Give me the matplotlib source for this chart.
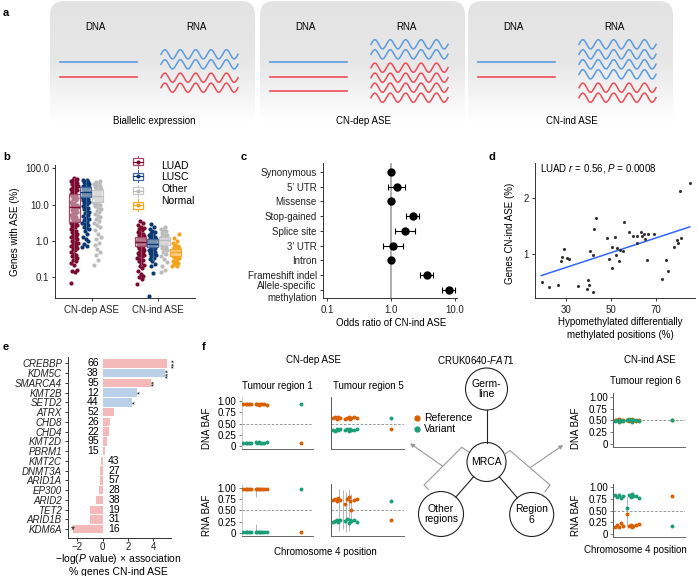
import numpy as np
import matplotlib
matplotlib.use('Agg')
import matplotlib.pyplot as plt
from matplotlib.patches import FancyBboxPatch, Circle, Rectangle
from matplotlib.colors import LinearSegmentedColormap

plt.rcParams['font.family'] = ['Liberation Sans', 'DejaVu Sans']
plt.rcParams['font.size'] = 7
plt.rcParams['mathtext.fontset'] = 'custom'
plt.rcParams['mathtext.rm'] = 'Liberation Sans'
plt.rcParams['mathtext.it'] = 'Liberation Sans:italic'
plt.rcParams['axes.linewidth'] = 0.7

# ---------------- DATA ----------------
# panel a: allele copies (blue, red) in DNA and RNA per scenario
a_titles = ['Biallelic expression', 'CN-dep ASE', 'CN-ind ASE']
a_dna_blue = [1, 1, 1]
a_dna_red = [1, 2, 1]
a_rna_blue = [2, 2, 4]
a_rna_red = [2, 4, 2]

# panel b: % genes with ASE
b_groups = ['LUAD', 'LUSC', 'Other', 'Normal']
b_cats = ['CN-dep ASE', 'CN-ind ASE']
luad_dep = [0.07, 0.14, 0.15, 0.16, 0.22, 0.25, 0.28, 0.3, 0.33, 0.35, 0.38, 0.4, 0.45, 0.5, 0.55,
            0.6, 0.65, 0.7, 0.75, 0.8, 0.85, 0.9, 0.95, 1.0, 1.1, 1.2, 1.3, 1.4, 1.5, 1.6, 1.7, 1.8,
            1.9, 2.0, 2.2, 2.4, 2.6, 2.8, 3.0, 3.2, 3.4, 3.6, 3.8, 4.0, 4.3, 4.6, 4.9, 5.2, 5.5, 5.9,
            6.3, 6.7, 7.1, 7.5, 8.0, 8.5, 9.0, 9.5, 10, 11, 12, 13, 14, 15, 16, 17, 18, 19, 20, 21.5,
            23, 24.5, 26, 27.5, 29, 31, 33, 35, 37, 39, 41, 43.5, 46, 48.5, 51, 54]
lusc_dep = [0.7, 0.75, 0.85, 1.0, 1.1, 1.3, 1.6, 1.9, 2.1, 2.3, 2.5, 2.7, 2.9, 3.1, 3.4, 3.7, 4.0,
            4.4, 4.8, 5.2, 5.7, 6.2, 6.8, 7.4, 8.0, 8.7, 9.4, 10.2, 11, 11.8, 12.6, 13.4, 14.2, 15,
            15.8, 16.6, 17.4, 18.2, 19, 19.8, 20.6, 21.4, 22.2, 23, 24, 25, 26, 27, 28, 29, 30, 31.5,
            33, 34.5, 36, 37.5, 39, 41, 43, 45, 47, 49]
other_dep = [0.22, 0.3, 0.4, 0.5, 0.6, 0.8, 0.9, 1.1, 1.3, 1.6, 2.0, 2.4, 2.8, 3.2, 3.6, 4.0, 4.5,
             5.0, 5.6, 6.2, 6.8, 7.5, 8.2, 9.0, 9.8, 10.6, 11.4, 12.2, 13, 13.8, 14.6, 15.4, 16.2,
             17, 17.8, 18.6, 19.5, 20.5, 21.5, 22.5, 23.5, 25, 26.5, 28, 30, 32, 34, 36, 38.5, 41, 44]
luad_ind = [0.065, 0.09, 0.1, 0.11, 0.12, 0.15, 0.18, 0.2, 0.22, 0.25, 0.28, 0.3, 0.32, 0.35, 0.38,
            0.4, 0.42, 0.45, 0.48, 0.5, 0.53, 0.56, 0.6, 0.63, 0.66, 0.7, 0.73, 0.76, 0.8, 0.83,
            0.86, 0.9, 0.93, 0.96, 1.0, 1.04, 1.08, 1.12, 1.16, 1.2, 1.25, 1.3, 1.36, 1.42, 1.5, 1.6,
            1.7, 1.8, 1.95, 2.1, 2.3, 2.5, 2.8, 3.1, 3.5]
lusc_ind = [0.03, 0.13, 0.2, 0.24, 0.28, 0.32, 0.35, 0.38, 0.41, 0.44, 0.47, 0.5, 0.53, 0.56, 0.6,
            0.63, 0.66, 0.7, 0.73, 0.76, 0.8, 0.83, 0.86, 0.9, 0.93, 0.96, 1.0, 1.04, 1.08, 1.12,
            1.17, 1.22, 1.28, 1.35, 1.43, 1.52, 1.62, 1.75, 1.9, 2.1, 2.4, 3.0]
other_ind = [0.14, 0.16, 0.2, 0.26, 0.32, 0.38, 0.44, 0.5, 0.55, 0.6, 0.64, 0.68, 0.72, 0.76, 0.8,
             0.84, 0.88, 0.92, 0.96, 1.0, 1.04, 1.08, 1.12, 1.16, 1.2, 1.25, 1.3, 1.36, 1.42, 1.5,
             1.6, 1.7, 1.85, 2.0, 2.2, 2.5]
normal_ind = [0.2, 0.21, 0.23, 0.25, 0.27, 0.29, 0.31, 0.33, 0.35, 0.37, 0.39, 0.41, 0.43, 0.45,
              0.47, 0.49, 0.51, 0.53, 0.55, 0.57, 0.6, 0.63, 0.66, 0.7, 0.75, 0.8, 0.9, 1.0, 1.2, 1.6]
dep_q1 = [3.3, 16, 12]
dep_med = [8.5, 22, 17]
dep_q3 = [19, 30, 25]
dep_lo = [0.3, 2.0, 2.5]
dep_hi = [55, 50, 45]
ind_q1 = [0.72, 0.68, 0.8, 0.38]
ind_med = [0.95, 0.85, 1.05, 0.5]
ind_q3 = [1.25, 1.1, 1.3, 0.62]
ind_lo = [0.2, 0.3, 0.4, 0.2]
ind_hi = [2.0, 1.7, 1.9, 0.9]

# panel c: odds ratios
c_labels = ['Synonymous', '5\u2019 UTR', 'Missense', 'Stop-gained', 'Splice site', '3\u2019 UTR',
            'Intron', 'Frameshift indel', 'Allele-specific\nmethylation']
c_or = [1.0, 1.24, 1.0, 2.2, 1.65, 1.08, 1.0, 3.6, 7.9]
c_lo = [0.95, 0.9, 0.94, 1.72, 1.14, 0.75, 0.95, 2.85, 6.2]
c_hi = [1.05, 1.68, 1.07, 2.75, 2.34, 1.55, 1.06, 4.5, 10.0]

# panel d: scatter
d_x = [19.2, 22.3, 26.6, 27.9, 28.2, 29.1, 30.6, 31.2, 35.3, 39.6, 40.1, 39.5, 42.0, 40.7, 42.1,
       42.4, 43.3, 48.1, 50.3, 50.6, 49.1, 51.8, 52.5, 52.1, 53.6, 54.0, 55.5, 55.8, 58.1, 59.6,
       61.4, 61.7, 63.3, 63.9, 64.7, 65.1, 66.6, 65.9, 69.1, 72.5, 74.4, 75.3, 78.0, 79.5, 79.9,
       81.0, 80.8, 85.1]
d_y = [0.51, 0.41, 0.46, 0.875, 0.95, 1.09, 0.94, 0.92, 0.43, 0.54, 0.45, 0.375, 0.33, 1.05, 0.99,
       1.46, 1.65, 1.29, 1.13, 0.755, 0.92, 1.31, 1.12, 0.98, 0.875, 1.08, 1.05, 1.58, 1.39, 1.33,
       1.32, 1.20, 1.39, 1.33, 1.37, 1.27, 1.36, 0.89, 1.36, 0.55, 0.90, 0.70, 1.125, 1.25, 1.21,
       1.29, 2.13, 2.27]
d_fit_x = [19, 85]
d_fit_y = [0.62, 1.49]

# panel e: chromatin modifiers
e_genes = ['CREBBP', 'KDM5C', 'SMARCA4', 'KMT2B', 'SETD2', 'ATRX', 'CHD8', 'CHD4', 'KMT2D', 'PBRM1',
           'KMT2C', 'DNMT3A', 'ARID1A', 'EP300', 'ARID2', 'TET2', 'ARID1B', 'KDM6A']
e_vals = [5.1, 4.9, 3.8, 2.7, 2.35, 0.9, 0.58, 0.53, 0.37, 0.18, -0.16, -0.21, -0.23, -0.29, -0.55,
          -1.0, -1.0, -2.3]
e_pct = [66, 38, 95, 12, 44, 52, 26, 22, 95, 15, 43, 27, 57, 28, 38, 19, 31, 16]
e_blue = [False, True, False, True, True, False, False, False, False, False, False, False, False,
          False, False, False, False, False]
e_stars = ['***', '***', '**', '*', '*', '', '', '', '', '', '', '', '', '', '', '', '', '*']

# panel f: BAF per SNP (chromosome 4 positions, arbitrary units)
f_pos = [2.2, 5.6, 7.8, 10.2, 13.0, 19.5, 21.8, 24.2, 25.6, 27.9, 31.1, 35.8, 82.4]
r1_dna_ref = [0.94, 0.93, 0.94, 0.93, 0.93, 0.93, 0.94, 0.92, 0.94, 0.93, 0.93, 0.92, 0.06]
r1_dna_var = [0.06, 0.07, 0.06, 0.07, 0.07, 0.08, 0.06, 0.08, 0.06, 0.07, 0.07, 0.08, 0.93]
r1_rna_ref = [0.98, 0.98, 0.98, 0.98, 0.98, 0.97, 0.98, 0.98, 0.97, 0.98, 0.98, 0.98, 0.02]
r1_rna_var = [0.02, 0.02, 0.02, 0.02, 0.02, 0.03, 0.02, 0.02, 0.03, 0.02, 0.02, 0.02, 0.98]
r5_dna_ref = [0.62, 0.65, 0.61, 0.64, 0.62, 0.60, 0.63, 0.65, 0.61, 0.63, 0.64, 0.62, 0.37]
r5_dna_var = [0.35, 0.33, 0.37, 0.36, 0.38, 0.35, 0.37, 0.34, 0.38, 0.36, 0.35, 0.37, 0.63]
r5_rna_ref = [0.72, 0.75, 0.70, 0.78, 0.73, 0.65, 0.76, 0.80, 0.70, 0.50, 0.72, 0.75, 0.28]
r5_rna_var = [0.25, 0.27, 0.30, 0.24, 0.28, 0.27, 0.31, 0.22, 0.30, 0.26, 0.28, 0.25, 0.71]
r6_dna_ref = [0.51, 0.50, 0.52, 0.49, 0.50, 0.51, 0.48, 0.50, 0.52, 0.50, 0.49, 0.51, 0.50]
r6_dna_var = [0.48, 0.50, 0.47, 0.51, 0.49, 0.50, 0.53, 0.50, 0.47, 0.50, 0.51, 0.48, 0.50]
r6_rna_ref = [0.16, 0.20, 0.14, 0.24, 0.18, 0.43, 0.17, 0.20, 0.15, 0.18, 0.19, 0.22, 0.82]
r6_rna_var = [0.83, 0.80, 0.84, 0.78, 0.82, 0.55, 0.83, 0.80, 0.85, 0.82, 0.81, 0.78, 0.18]
r1_err_pos, r1_err_lo, r1_err_hi = [19.5, 19.5], [0.80, 0.02], [0.98, 0.20]
r5_err_pos, r5_err_lo, r5_err_hi = [11.4, 16.0, 20.5, 24.2, 27.6], [0.05, 0.10, 0.02, 0.05, 0.30], [0.98, 0.95, 0.90, 0.98, 0.85]
r6_err_pos, r6_err_lo, r6_err_hi = [19.5], [0.17], [0.80]

# ---------------- FIGURE ----------------
W, H = 698, 576
fig = plt.figure(figsize=(W / 100, H / 100), dpi=100)


def axpx(l, t, r, b):
    ax = fig.add_axes([l / W, 1 - b / H, (r - l) / W, (b - t) / H])
    ax.set_facecolor('none')
    return ax


def ftext(x, y, s, **kw):
    kw.setdefault('ha', 'center')
    kw.setdefault('va', 'center')
    kw.setdefault('fontsize', 7)
    return fig.text(x / W, 1 - y / H, s, **kw)


def style(ax):
    for s in ['top', 'right']:
        ax.spines[s].set_visible(False)
    for s in ['left', 'bottom']:
        ax.spines[s].set_color('#333333')
        ax.spines[s].set_linewidth(0.7)
    ax.tick_params(length=2.5, width=0.7, color='#333333', labelsize=7, pad=2, labelcolor='#222222')


bg = fig.add_axes([0, 0, 1, 1])
bg.set_xlim(0, W)
bg.set_ylim(H, 0)
bg.axis('off')
bg.set_zorder(-5)

# panel labels
for lab, x, y in [('a', 3, 13), ('b', 3, 157), ('c', 241, 157), ('d', 488, 157), ('e', 3, 347), ('f', 202, 347)]:
    ftext(x, y, lab, ha='left', fontweight='bold', fontsize=8)

# ---------------- panel a ----------------
cmap_g = LinearSegmentedColormap.from_list('g', ['#E3E3E3', '#E7E7E7', '#FFFFFF'])
grad = np.linspace(0, 1, 256).reshape(-1, 1)
box_lefts = [50, 260, 468]
blue_c, red_c = '#5B9BDF', '#EE4B55'
for i, l in enumerate(box_lefts):
    r = l + 205
    patch = FancyBboxPatch((l, 1), r - l, 150, boxstyle='round,pad=0,rounding_size=14',
                           facecolor='none', edgecolor='none')
    bg.add_patch(patch)
    im = bg.imshow(grad, extent=[l, r, 122, 1], cmap=cmap_g, aspect='auto', origin='upper',
                   interpolation='bilinear', zorder=0)
    im.set_clip_path(patch)
    ftext(l + 45, 27, 'DNA')
    ftext(l + 146, 27, 'RNA')
    ftext(l + 104, 121, a_titles[i])
    cols = [blue_c] * a_dna_blue[i] + [red_c] * a_dna_red[i]
    for k, c in enumerate(cols):
        y = 62.3 + 14.4 * k
        bg.plot([l + 10, l + 87], [y, y], color=c, lw=1.2, zorder=2)
    nb, nr = a_rna_blue[i], a_rna_red[i]
    ys = [10 * k for k in range(nb)] + [10 * (nb - 1) + 13.4 + 10 * k for k in range(nr)]
    total = ys[-1]
    ctr = 71
    xs = np.linspace(0, 77, 300)
    for k, y0 in enumerate(ys):
        c = blue_c if k < nb else red_c
        yy = ctr - total / 2 + y0 - 4.6 * np.sin(2 * np.pi * xs / 15.4)
        bg.plot(l + 111 + xs, yy, color=c, lw=1.1, zorder=2)
bg.set_xlim(0, W)
bg.set_ylim(H, 0)

# ---------------- panel b ----------------
axb = axpx(55.3, 165, 195, 298.3)
style(axb)
axb.set_yscale('log')
axb.set_ylim(0.0265, 123)
axb.set_xlim(0.454, 2.55)
pt_cols = ['#7A0A2E', '#0B3A73', '#BBBBBB', '#F5A31D']
box_cols = ['#A2486A', '#46679A', '#C6C6C6', '#F5A623']
offs = [-0.2625, -0.0875, 0.0875, 0.2625]
dep_data = [luad_dep, lusc_dep, other_dep]
ind_data = [luad_ind, lusc_ind, other_ind, normal_ind]
for cat, datas in [(1, dep_data), (2, ind_data)]:
    for g, vals in enumerate(datas):
        n = len(vals)
        jit = np.array([((k * 0.618034) % 1.0) - 0.5 for k in range(n)]) * 0.11
        axb.scatter(cat + offs[g] + jit, vals, s=9, color=pt_cols[g], lw=0, zorder=2)
stats = []
poss = []
for g in range(3):
    stats.append(dict(q1=dep_q1[g], med=dep_med[g], q3=dep_q3[g], whislo=dep_lo[g], whishi=dep_hi[g], fliers=[]))
    poss.append(1 + offs[g])
for g in range(4):
    stats.append(dict(q1=ind_q1[g], med=ind_med[g], q3=ind_q3[g], whislo=ind_lo[g], whishi=ind_hi[g], fliers=[]))
    poss.append(2 + offs[g])
gidx = [0, 1, 2, 0, 1, 2, 3]
for st, p, g in zip(stats, poss, gidx):
    axb.bxp([st], positions=[p], widths=0.165, showfliers=False, patch_artist=True,
            boxprops=dict(facecolor=(1, 1, 1, 0.45), edgecolor=box_cols[g], lw=0.9),
            medianprops=dict(color=pt_cols[g], lw=1.0),
            whiskerprops=dict(color=box_cols[g], lw=0.7),
            capprops=dict(color='none'), manage_ticks=False, zorder=3)
axb.set_yticks([0.1, 1, 10, 100])
axb.set_yticklabels(['0.1', '1.0', '10.0', '100.0'])
axb.yaxis.set_minor_locator(matplotlib.ticker.NullLocator())
axb.set_xticks([1, 2])
axb.set_xticklabels(b_cats)
ftext(15, 232, 'Genes with ASE (%)', rotation=90)
leg_sym_y = [161.7, 176, 190.5, 205]
leg_txt_y = [166, 177.5, 189, 200.5]
for g in range(4):
    y = leg_sym_y[g]
    bg.plot([138, 138], [y - 6, y + 6], color=box_cols[g], lw=0.7)
    bg.add_patch(Rectangle((132.7, y - 3.5), 10.6, 7, facecolor='white', edgecolor=box_cols[g], lw=0.9, zorder=3))
    bg.plot([132.7, 143.3], [y, y], color=pt_cols[g], lw=0.8, zorder=4)
    bg.plot([138], [y], marker='o', ms=2, color=pt_cols[g], zorder=5)
    ftext(161, leg_txt_y[g], b_groups[g], ha='left', fontsize=7.5)

# ---------------- panel c ----------------
axc = axpx(323, 163, 457, 298.3)
style(axc)
axc.set_xscale('log')
axc.set_xlim(0.0866, 10.7)
axc.set_ylim(8.56, -0.6)
axc.axvline(1, color='#A8A8A8', lw=1.3, zorder=1)
yy = np.arange(len(c_labels))
axc.errorbar(c_or, yy, xerr=[np.array(c_or) - np.array(c_lo), np.array(c_hi) - np.array(c_or)],
             fmt='o', color='black', ms=5, capsize=2, elinewidth=0.8, capthick=0.8, zorder=3)
axc.set_yticks(yy)
axc.set_yticklabels(c_labels)
for t in axc.get_yticklabels():
    t.set_multialignment('right')
axc.set_xticks([0.1, 1, 10])
axc.set_xticklabels(['0.1', '1.0', '10.0'])
axc.xaxis.set_minor_locator(matplotlib.ticker.NullLocator())
ftext(391, 323, 'Odds ratio of CN-ind ASE')

# ---------------- panel d ----------------
axd = axpx(535, 163, 695, 298.3)
style(axd)
axd.set_xlim(16.2, 87.3)
axd.set_ylim(0.214, 2.63)
axd.scatter(d_x, d_y, s=5, color='#333333', lw=0, zorder=3)
axd.plot(d_fit_x, d_fit_y, color='#3366FF', lw=1.1, zorder=2)
axd.set_xticks([30, 50, 70])
axd.set_yticks([1, 2])
axd.text(0.03, 0.96, 'LUAD $r$ = 0.56, $P$ = 0.0008', transform=axd.transAxes, ha='left', va='center', fontsize=7)
ftext(510, 233, 'Genes CN-ind ASE (%)', rotation=90)
ftext(620, 322, 'Hypomethylated differentially')
ftext(620, 335, 'methylated positions (%)')

# ---------------- panel e ----------------
axe = axpx(68.3, 357, 171, 538)
style(axe)
axe.tick_params(axis='x', pad=1, length=2)
axe.set_xlim(-2.7, 5.4)
axe.set_ylim(17.9, -0.65)
ye = np.arange(len(e_genes))
ecols = ['#B9D0E8' if b else '#F6B9B9' for b in e_blue]
axe.barh(ye, e_vals, height=0.86, color=ecols, zorder=2)
axe.set_yticks(ye)
axe.set_yticklabels(e_genes, fontstyle='italic')
axe.set_xticks([-2, 0, 2, 4])
star_dx = [0.6, 0.3, 0.3, 0.3, 0.3, 0, 0, 0, 0, 0, 0, 0, 0, 0, 0, 0, 0, 0.1]
for k in range(len(e_genes)):
    v = e_vals[k]
    if v >= 0:
        axe.text(-0.3, ye[k], str(e_pct[k]), ha='right', va='center', fontsize=7.5)
    else:
        axe.text(0.45, ye[k], str(e_pct[k]), ha='left', va='center', fontsize=7.5)
    if e_stars[k]:
        if v >= 0:
            axe.text(v + star_dx[k], ye[k], e_stars[k], ha='center', va='center', rotation=90,
                     fontsize=6, clip_on=False)
        else:
            axe.text(v + star_dx[k], ye[k] + 0.1, e_stars[k], ha='right', va='center', fontsize=7, clip_on=False)
ftext(118, 559.5, '\u2212log($P$ value) \u00d7 association', fontsize=7.5)
ftext(118, 572, '% genes CN-ind ASE', fontsize=7.5)

# ---------------- panel f ----------------
ORANGE, GREEN = '#D95F02', '#1B9E77'
ftext(314, 360, 'CN-dep ASE')
ftext(476, 360, 'CRUK0640-$\\mathit{FAT1}$')
ftext(650, 360, 'CN-ind ASE')
ftext(277, 386, 'Tumour region 1')
ftext(368, 386, 'Tumour region 5')
ftext(645, 381, 'Tumour region 6')


def baf(ax, ref, var, labels, lcol, err=None):
    for s in ['top', 'right']:
        ax.spines[s].set_visible(False)
    ax.spines['left'].set_color(lcol)
    ax.spines['bottom'].set_color('#666666')
    ax.spines['left'].set_linewidth(0.7)
    ax.spines['bottom'].set_linewidth(0.7)
    ax.set_xlim(0, 100)
    ax.set_ylim(-0.06, 1.08)
    ax.set_xticks([])
    ax.axhline(0.5, color='#888888', lw=0.6, ls=(0, (3, 2)), zorder=1)
    if err is not None:
        ax.vlines(err[0], err[1], err[2], color='#AAAAAA', lw=0.6, zorder=1)
    ax.scatter(f_pos, ref, s=8, color=ORANGE, lw=0, zorder=3)
    ax.scatter(f_pos, var, s=8, color=GREEN, lw=0, zorder=3)
    if labels:
        ax.set_yticks([0, 0.25, 0.5, 0.75, 1.0])
        ax.set_yticklabels(['0', '0.25', '0.50', '0.75', '1.00'])
        ax.tick_params(axis='y', length=2, width=0.6, color='#666666', labelsize=7, pad=2)
    else:
        ax.set_yticks([])


a1 = axpx(241.7, 397.4, 313.3, 448.7)
baf(a1, r1_dna_ref, r1_dna_var, True, '#CCCCCC')
a2 = axpx(241.7, 484, 313.3, 536)
baf(a2, r1_rna_ref, r1_rna_var, True, '#CCCCCC', (r1_err_pos, r1_err_lo, r1_err_hi))
a3 = axpx(331, 397.4, 404, 448.7)
baf(a3, r5_dna_ref, r5_dna_var, False, '#555555')
a4 = axpx(331, 484, 404, 536)
baf(a4, r5_rna_ref, r5_rna_var, False, '#555555', (r5_err_pos, r5_err_lo, r5_err_hi))
a5 = axpx(613.3, 392.9, 685, 446.8)
baf(a5, r6_dna_ref, r6_dna_var, True, '#555555')
a6 = axpx(613.3, 483.6, 685, 536.8)
baf(a6, r6_rna_ref, r6_rna_var, True, '#555555', (r6_err_pos, r6_err_lo, r6_err_hi))

ftext(207, 428, 'DNA BAF', rotation=90)
ftext(207, 515, 'RNA BAF', rotation=90)
ftext(576, 428, 'DNA BAF', rotation=90)
ftext(576, 515, 'RNA BAF', rotation=90)
ftext(325, 552, 'Chromosome 4 position')
ftext(635, 550, 'Chromosome 4 position')

bg.plot([416.7], [417.7], 'o', ms=3.5, color=ORANGE)
bg.plot([416.7], [429.3], 'o', ms=3.5, color=GREEN)
ftext(424, 417.7, 'Reference', ha='left', fontsize=7.5)
ftext(424, 429.3, 'Variant', ha='left', fontsize=7.5)

nodes = {'germ': (486.5, 389, 21, 'Germ-\nline'), 'mrca': (486.5, 462, 19.5, 'MRCA'),
         'other': (441, 514, 22.5, 'Other\nregions'), 'r6': (531.7, 514.5, 22, 'Region\n6')}
for key, (x, y, r, s) in nodes.items():
    bg.add_patch(Circle((x, y), r, fill=False, ec='#222222', lw=0.8))
    ftext(x, y, s, fontsize=7.5, linespacing=1.1)


def edge(a, b):
    x1, y1, r1, _ = nodes[a]
    x2, y2, r2, _ = nodes[b]
    d = np.hypot(x2 - x1, y2 - y1)
    ux, uy = (x2 - x1) / d, (y2 - y1) / d
    bg.plot([x1 + ux * r1, x2 - ux * r2], [y1 + uy * r1, y2 - uy * r2], color='#222222', lw=0.8)


edge('germ', 'mrca')
edge('mrca', 'other')
edge('mrca', 'r6')
gray = '#9A9A9A'
bg.plot([468.3, 461.7, 424, 428.5], [451.7, 447.3, 485, 489.5], color=gray, lw=0.8)
bg.plot([505, 510, 550, 545], [454, 450.5, 485, 491.7], color=gray, lw=0.8)
bg.annotate('', xy=(410, 443.3), xytext=(442.8, 466.3),
            arrowprops=dict(arrowstyle='-|>', color=gray, lw=0.8, mutation_scale=6, shrinkA=0, shrinkB=0))
bg.annotate('', xy=(563.3, 445), xytext=(530, 467.8),
            arrowprops=dict(arrowstyle='-|>', color=gray, lw=0.8, mutation_scale=6, shrinkA=0, shrinkB=0))

fig.savefig('out.png', dpi=100)
